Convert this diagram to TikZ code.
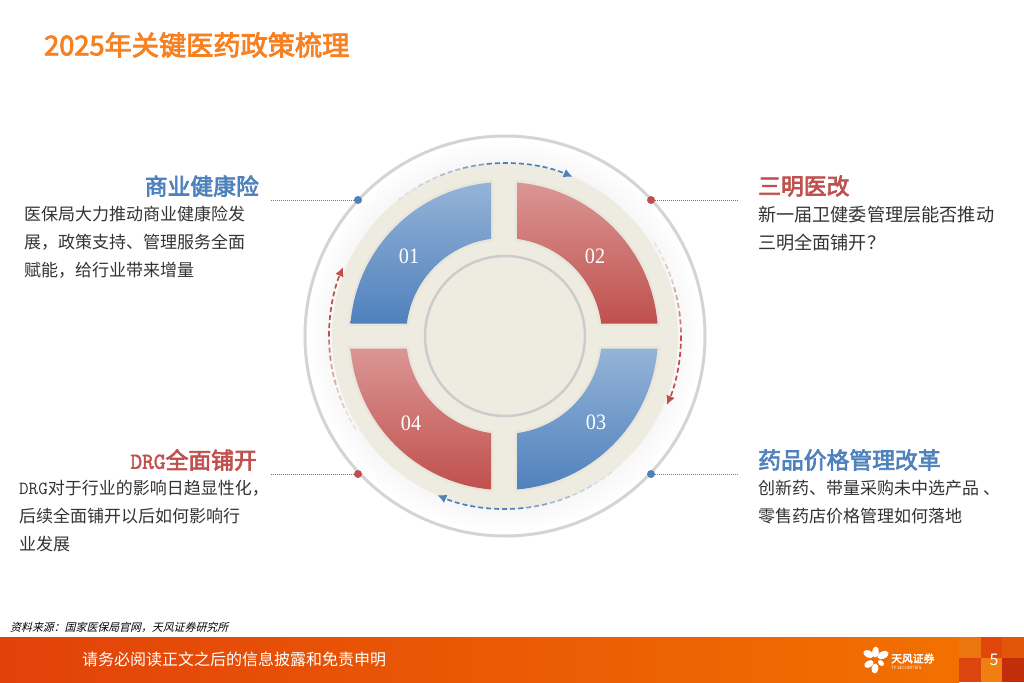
\documentclass[tikz,border=0pt]{standalone}
\usepackage{fontspec}
\setmainfont{Noto Sans CJK SC}
\newfontfamily\serifnum[FakeStretch=0.92]{Liberation Serif}
\newfontfamily\drgfont[FakeBold=2]{Latin Modern Mono}
\newfontfamily\drgplain{Latin Modern Mono}
\newfontfamily\cjkslant[FakeSlant=0.25]{Noto Sans CJK SC}
\newfontfamily\cjkmid[FakeBold=3]{Noto Sans CJK SC}
\usetikzlibrary{math,arrows.meta}
\definecolor{myblue}{RGB}{79,129,189}
\definecolor{mylightblue}{RGB}{149,179,215}
\definecolor{myred}{RGB}{192,80,77}
\definecolor{mylightred}{RGB}{218,150,148}
\definecolor{mybeige}{RGB}{238,236,225}
\definecolor{myorange}{RGB}{247,128,32}
\tikzset{
headtext/.style={font=\cjkmid\fontsize{22.8}{24}\selectfont,inner sep=0pt},
bodytext/.style={text=black!80,inner sep=0pt,anchor=north west,align=left},
numtext/.style={font=\serifnum\fontsize{22}{22}\selectfont,text=white,inner sep=0pt},
leader/.style={densely dotted,line width=1},
flowarc/.style={dash pattern=on 5pt off 3pt,line width=1.7},
flowtip/.style={-{Latex[length=9pt,width=9pt]}},
segshadow/.style={black,opacity=0.025,line width=5},
}
\begin{document}
\begin{tikzpicture}[x=1pt,y=1pt]
\tikzmath{
\cx=505;
\cy=-336;
\sx=504;
\Ro=154;
\Ri=98;
\gx=13;
\gy=12.5;
\aox=asin(\gx/\Ro);
\aoy=asin(\gy/\Ro);
\aix=asin(\gx/\Ri);
\aiy=asin(\gy/\Ri);
}
\useasboundingbox (0,-682) rectangle (1024,0);
\fill[white] (0,-682) rectangle (1024,0);

\node[anchor=west,inner sep=0pt,text=myorange,font=\cjkmid\fontsize{27.2}{28}\selectfont] (title) at (44,-45) {2025年关键医药政策梳理};

% soft halo of the disc
\foreach \r in {196,193,...,174}{
\fill[black,opacity=0.004] (\cx,\cy) circle (\r);
}
\draw[color=black!17,line width=3] (\cx,\cy) circle (200);
\fill[mybeige] (\cx,\cy) circle (173);

\begin{scope}[shift={(\sx,\cy)}]
\def\segA{(90+\aox:\Ro) arc (90+\aox:180-\aoy:\Ro) -- (180-\aiy:\Ri) arc (180-\aiy:90+\aix:\Ri) -- cycle}
\def\segB{(\aoy:\Ro) arc (\aoy:90-\aox:\Ro) -- (90-\aix:\Ri) arc (90-\aix:\aiy:\Ri) -- cycle}
\def\segC{(-\aoy:\Ro) arc (-\aoy:-90+\aox:\Ro) -- (-90+\aix:\Ri) arc (-90+\aix:-\aiy:\Ri) -- cycle}
\def\segD{(180+\aoy:\Ro) arc (180+\aoy:270-\aox:\Ro) -- (270-\aix:\Ri) arc (270-\aix:180+\aiy:\Ri) -- cycle}
\draw[segshadow] \segA;
\draw[segshadow] \segB;
\draw[segshadow] \segC;
\draw[segshadow] \segD;
\shade[top color=mylightblue,bottom color=myblue] \segA;
\shade[top color=mylightred,bottom color=myred] \segB;
\shade[top color=mylightblue,bottom color=myblue] \segC;
\shade[top color=mylightred,bottom color=myred] \segD;
\end{scope}

\draw[color=black!20,fill=mybeige,line width=2.5] (\cx,\cy) circle (80);

\node[numtext] (num1) at (409,-256) {01};
\node[numtext] (num2) at (595,-256) {02};
\node[numtext] (num3) at (596,-422) {03};
\node[numtext] (num4) at (411,-423) {04};

% dashed arcs round the disc
\begin{scope}[shift={(\cx,\cy)}]
\foreach \a/\o in {128/0.12,120/0.25,112/0.45,104/0.7}{
\draw[flowarc,color=myblue,opacity=\o] (\a:173) arc (\a:\a-8:173);
}
\draw[flowarc,color=myblue,flowtip] (96:173) arc (96:67:173);
\foreach \a/\o in {32/0.15,24/0.3,16/0.5,8/0.75}{
\draw[flowarc,color=myred,opacity=\o] (\a:176) arc (\a:\a-8:176);
}
\draw[flowarc,color=myred,flowtip] (0:176) arc (0:-23:176);
\foreach \a/\o in {-52/0.12,-60/0.25,-68/0.45,-76/0.7}{
\draw[flowarc,color=myblue,opacity=\o] (\a:173) arc (\a:\a-8:173);
}
\draw[flowarc,color=myblue,flowtip] (-84:173) arc (-84:-113:173);
\foreach \a/\o in {212/0.15,204/0.3,196/0.5,188/0.75}{
\draw[flowarc,color=myred,opacity=\o] (\a:176) arc (\a:\a-8:176);
}
\draw[flowarc,color=myred,flowtip] (180:176) arc (180:157:176);
\end{scope}

% leaders
\fill[myblue] (358,-200) circle (4) coordinate (dot1);
\coordinate (end1) at (270,-200);
\draw[leader,color=myblue] (dot1) -- (end1);
\fill[myred] (651,-200) circle (4) coordinate (dot2);
\coordinate (end2) at (738,-200);
\draw[leader,color=myred] (dot2) -- (end2);
\fill[myblue] (651,-474) circle (4) coordinate (dot3);
\coordinate (end3) at (738,-474);
\draw[leader,color=myblue] (dot3) -- (end3);
\fill[myred] (358,-474) circle (4) coordinate (dot4);
\coordinate (end4) at (270,-474);
\draw[leader,color=myred] (dot4) -- (end4);

\node[headtext,text=myblue,anchor=east] (head1) at (259,-186) {商业健康险};
\node[headtext,text=myred,anchor=west] (head2) at (758,-186) {三明医改};
\node[headtext,text=myblue,anchor=west] (head3) at (758,-460) {药品价格管理改革};
\node[headtext,text=myred,anchor=east] (head4) at (257,-460) {{\drgfont DRG}全面铺开};

\node[bodytext,font=\fontsize{17}{28}\selectfont] (body1) at (24,-206) {医保局大力推动商业健康险发\\展，政策支持、管理服务全面\\赋能，给行业带来增量};
\node[bodytext,font=\fontsize{18.15}{28}\selectfont] (body2) at (758,-206) {新一届卫健委管理层能否推动\\三明全面铺开？};
\node[bodytext,font=\fontsize{17}{28}\selectfont] (body3) at (758,-480) {创新药、带量采购未中选产品 、\\零售药店价格管理如何落地};
\node[bodytext,font=\fontsize{17}{28}\selectfont] (body4) at (19,-480) {{\drgplain\fontsize{18.5}{28}\selectfont DRG}对于行业的影响日趋显性化，\\后续全面铺开以后如何影响行\\业发展};

\node[anchor=west,inner sep=0pt,font=\cjkslant\fontsize{10.9}{11}\selectfont] (source) at (10,-627) {资料来源：国家医保局官网，天风证券研究所};

% footer band
\shade[left color={rgb,255:red,226;green,66;blue,10},right color={rgb,255:red,242;green,112;blue,0}] (0,-682) rectangle (959,-637);
\fill[color={rgb,255:red,236;green,118;blue,14}] (959,-658) rectangle (981,-637);
\fill[color={rgb,255:red,226;green,70;blue,12}] (981,-658) rectangle (1002,-637);
\fill[color={rgb,255:red,226;green,86;blue,10}] (1002,-658) rectangle (1024,-637);
\fill[color={rgb,255:red,220;green,70;blue,14}] (959,-682) rectangle (981,-658);
\fill[color={rgb,255:red,240;green,126;blue,16}] (981,-682) rectangle (1002,-658);
\fill[color={rgb,255:red,194;green,46;blue,10}] (1002,-682) rectangle (1024,-658);
\node[anchor=west,inner sep=0pt,text=white,font=\fontsize{16}{16}\selectfont] (notice) at (82,-659) {请务必阅读正文之后的信息披露和免责申明};
\node[inner sep=0pt,text=white,font=\fontsize{16}{16}\selectfont] (page) at (994,-660) {5};

% logo flower
\foreach \x/\y/\a/\w/\h in {875.5/-652/85/5.5/3.4,883/-655/25/6/3.6,868.5/-654/-25/5.5/3.6,869/-664/30/5/3.4,875/-668.5/80/5/3.4,881/-663/-45/3.5/2.4}{
\fill[white,rotate around={\a:(\x,\y)}] (\x,\y) ellipse (\w pt and \h pt);
}
\node[anchor=west,inner sep=0pt,text=white,font=\cjkmid\fontsize{10.8}{11}\selectfont] (logoname) at (891,-658.5) {天风证券};
\node[anchor=west,inner sep=0pt,text=white,font=\fontsize{4.4}{5}\selectfont] (logosub) at (891,-668) {TY SECURITIES};
\end{tikzpicture}
\end{document}
